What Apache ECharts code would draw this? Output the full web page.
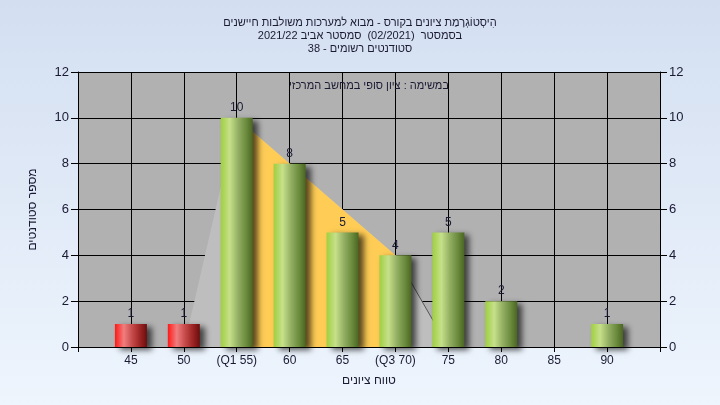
<!DOCTYPE html>
<html>
<head>
<meta charset="utf-8">
<script src="https://cdn.jsdelivr.net/npm/echarts@6/dist/echarts.min.js"></script>
<style>
  html, body { margin: 0; padding: 0; }
  #chart { width: 720px; height: 405px; }
</style>
</head>
<body>
<div id="chart" dir="rtl"></div>
<script>
// ---- data ----
const titleLines = [
  'הִיסְטוֹגְרָמַת ציונים בקורס - מבוא למערכות משולבות חיישנים',
  'בסמסטר  (02/2021)  סמסטר אביב 2021/22',
  'סטודנטים רשומים - 38'
];
const annotation = 'במשימה : ציון סופי במחשב המרכזי';
const xAxisName = 'טווח ציונים';
const yAxisName = 'מספר סטודנטים';
const gradeValues = [45, 50, 55, 60, 65, 70, 75, 80, 85, 90];
const tickLabels = ['45', '50', '(Q1 55)', '60', '65', '(Q3 70)', '75', '80', '85', '90'];
const counts = [1, 1, 10, 8, 5, 4, 5, 2, 0, 1];
const passGrade = 55;
// spread shape (light grey) and inter-quartile band (yellow)
const spreadX = [50, 55, 70, 75];
const spreadY = [0, 10, 4, 0];
const quartileX = [55, 70];
const quartileY = [10, 4];

// ---- chart ----
const chart = echarts.init(document.getElementById('chart'));
const FONT = 'Liberation Sans';
const txt = '#1a1a33';

function grad(stops) {
  return new echarts.graphic.LinearGradient(0, 0, 1, 0,
    stops.map(s => ({ offset: s[0], color: s[1] })));
}
const greenGrad = grad([[0, '#9fcf40'], [0.28, '#c6e08a'], [0.55, '#92ae62'], [0.8, '#6a8a3c'], [1, '#4a6622']]);
const redGrad = grad([[0, '#ff1818'], [0.28, '#f07e7e'], [0.55, '#c44848'], [0.8, '#9a2222'], [1, '#6a0e0e']]);

const option = {
  backgroundColor: new echarts.graphic.LinearGradient(0, 0, 0, 1, [
    { offset: 0, color: '#d3dff1' }, { offset: 1, color: '#eef5fd' }
  ]),
  textStyle: { fontFamily: FONT },
  title: {
    text: titleLines.join('\n'),
    left: 'center',
    top: 11,
    textStyle: { fontSize: 11, fontWeight: 'normal', color: txt, lineHeight: 13, fontFamily: FONT }
  },
  graphic: [{
    type: 'text',
    x: 369, y: 80,
    style: { text: annotation, fill: txt, font: '11px "Liberation Sans"', textAlign: 'center' },
    z: 100
  }],
  grid: {
    left: 78, right: 60, top: 72, bottom: 58,
    show: true, backgroundColor: '#b1b1b1', borderWidth: 0
  },
  xAxis: {
    type: 'value',
    min: 40, max: 95, interval: 5,
    name: xAxisName,
    nameLocation: 'middle',
    nameGap: 28,
    nameTextStyle: { color: txt, fontSize: 12, fontFamily: FONT },
    axisLine: { show: true, lineStyle: { color: '#000', width: 1 } },
    axisTick: { show: true, length: 5, lineStyle: { color: '#000' } },
    axisLabel: {
      color: txt, fontSize: 12, margin: 8, fontFamily: FONT,
      formatter: v => { const i = gradeValues.indexOf(v); return i >= 0 ? tickLabels[i] : ''; }
    },
    splitLine: { show: true, lineStyle: { color: '#000', width: 1 } }
  },
  yAxis: [{
    type: 'value', position: 'left',
    min: 0, max: 12, interval: 2,
    name: yAxisName,
    nameLocation: 'middle',
    nameGap: 39,
    nameTextStyle: { color: txt, fontSize: 12, fontFamily: FONT },
    axisLine: { show: true, lineStyle: { color: '#000', width: 1 } },
    axisTick: { show: true, length: 7, lineStyle: { color: '#000' } },
    axisLabel: { color: txt, fontSize: 13, margin: 9, fontFamily: FONT },
    splitLine: { show: true, lineStyle: { color: '#000', width: 1 } }
  }, {
    type: 'value', position: 'right',
    min: 0, max: 12, interval: 2,
    axisLine: { show: true, lineStyle: { color: '#000', width: 1 } },
    axisTick: { show: true, length: 7, lineStyle: { color: '#000' } },
    axisLabel: { color: txt, fontSize: 13, margin: 9, fontFamily: FONT },
    splitLine: { show: false }
  }],
  series: [{
    type: 'line',
    data: spreadX.map((x, i) => [x, spreadY[i]]),
    symbol: 'none',
    lineStyle: { width: 0 },
    areaStyle: { color: '#bebebe', opacity: 1 },
    silent: true, z: 2
  }, {
    type: 'line',
    data: spreadX.slice(2).map((x, i) => [x, spreadY[i + 2]]),
    symbol: 'none',
    lineStyle: { width: 1, color: '#555' },
    silent: true, z: 2
  }, {
    type: 'line',
    data: quartileX.map((x, i) => [x, quartileY[i]]),
    symbol: 'none',
    lineStyle: { width: 0 },
    areaStyle: { color: '#ffcc55', opacity: 1 },
    silent: true, z: 3
  }, {
    type: 'bar',
    data: gradeValues.map((g, i) => [g, counts[i]]),
    barWidth: 32,
    z: 4,
    itemStyle: {
      color: p => (p.value[0] < passGrade ? redGrad : greenGrad),
      shadowColor: 'rgba(0,0,0,0.65)', shadowBlur: 6, shadowOffsetX: 5, shadowOffsetY: 3
    },
    label: {
      show: true, position: 'top', distance: 4,
      color: txt, fontSize: 12, fontFamily: FONT,
      formatter: p => (p.value[1] ? String(p.value[1]) : '')
    }
  }]
};
chart.setOption(option);
</script>
</body>
</html>
